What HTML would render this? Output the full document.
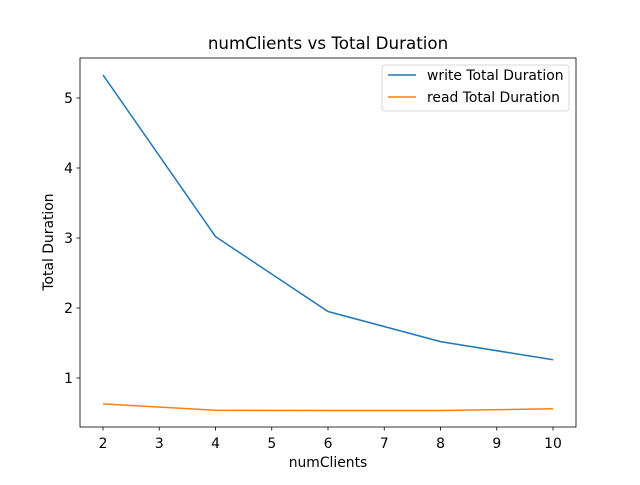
<!DOCTYPE html>
<html><head><meta charset="utf-8"><style>
body{margin:0;background:#fff}
svg text{font-family:"DejaVu Sans","Liberation Sans",sans-serif;fill:#000}
</style></head><body>
<svg id="chart" width="640" height="480" xmlns="http://www.w3.org/2000/svg">
<rect width="640" height="480" fill="#fff"/>
<text x="328" y="49" font-size="16.7" text-anchor="middle">numClients vs Total Duration</text>
<g id="plot"></g>
<rect x="80" y="58" width="496" height="369" fill="none" stroke="#000" stroke-width="0.8"/>
<text x="328" y="467" font-size="13.9" text-anchor="middle">numClients</text>
<text transform="translate(53,242) rotate(-90)" font-size="13.9" text-anchor="middle">Total Duration</text>
<g>
<rect x="382" y="65" width="187" height="46" rx="3" fill="#fff" stroke="#ccc" stroke-width="0.8"/>
<line x1="388" y1="75" x2="416" y2="75" stroke="#1f77b4" stroke-width="1.5"/>
<text x="427" y="80" font-size="13.9">write Total Duration</text>
<line x1="388" y1="97" x2="416" y2="97" stroke="#ff7f0e" stroke-width="1.5"/>
<text x="427" y="102" font-size="13.9">read Total Duration</text>
</g>
</svg>
<script>
const categories=[2,4,6,8,10];
const writeValues=[5.33,3.02,1.95,1.52,1.26];
const readValues=[0.63,0.54,0.535,0.535,0.56];
const xTicks=[2,3,4,5,6,7,8,9,10];
const yTicks=[1,2,3,4,5];
const ns="http://www.w3.org/2000/svg";
const sx=v=>103+(v-2)*56.25;
const sy=v=>448-v*70;
const g=document.getElementById('plot');
function mk(t,a){const e=document.createElementNS(ns,t);for(const k in a)e.setAttribute(k,a[k]);g.appendChild(e);return e;}
xTicks.forEach(t=>{
 const l=mk('line',{x1:sx(t),x2:sx(t),y1:427,y2:430.5,stroke:'#000','stroke-width':0.8});
 
 
 const tx=mk('text',{x:sx(t),y:448,'font-size':13.9,'text-anchor':'middle'});tx.textContent=t;
 
 
});
yTicks.forEach(t=>{
 const l=mk('line',{x1:76.5,x2:80,y1:sy(t),y2:sy(t),stroke:'#000','stroke-width':0.8});
 
 
 const tx=mk('text',{x:73,y:sy(t)+5,'font-size':13.9,'text-anchor':'end'});tx.textContent=t;
 
 
});
function line(vals,color,name){
 const p=mk('polyline',{points:categories.map((c,i)=>sx(c)+','+sy(vals[i])).join(' '),fill:'none',stroke:color,'stroke-width':1.5});
 
 
}
line(writeValues,'#1f77b4','write-line');
line(readValues,'#ff7f0e','read-line');
</script>
</body></html>
